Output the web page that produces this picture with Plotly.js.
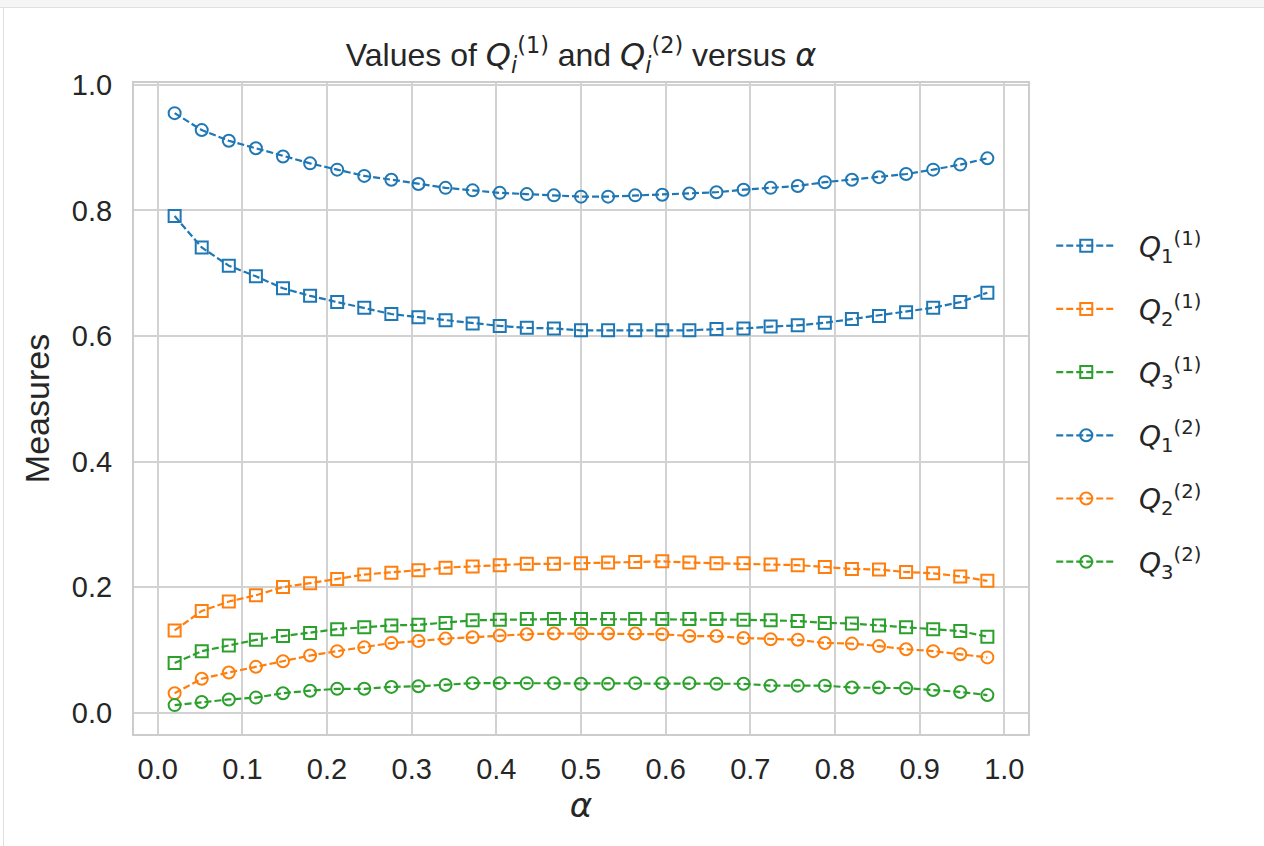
<!DOCTYPE html>
<html>
<head>
<meta charset="utf-8">
<script src="https://cdn.plot.ly/plotly-3.0.1.min.js"></script>
<style>
html,body{margin:0;padding:0;background:#fff;}
#topband{position:absolute;left:0;top:0;width:1264px;height:7px;background:#f5f5f5;border-bottom:1px solid #e0e0e0;}
#leftline{position:absolute;left:3px;top:8px;width:1px;height:838px;background:#e0e0e0;}
#chart{position:absolute;left:0;top:0;width:1264px;height:846px;}
</style>
</head>
<body>
<div id="chart"></div>
<div id="topband"></div>
<div id="leftline"></div>
<script>
const alpha = [0.02,0.052,0.084,0.116,0.148,0.18,0.212,0.244,0.276,0.308,0.34,0.372,0.404,0.436,0.468,0.5,0.532,0.564,0.596,0.628,0.66,0.692,0.724,0.756,0.788,0.82,0.852,0.884,0.916,0.948,0.98];

const Q1_1 = [0.791,0.741,0.712,0.695,0.676,0.664,0.654,0.645,0.635,0.630,0.625,0.620,0.616,0.613,0.612,0.609,0.609,0.609,0.609,0.609,0.611,0.612,0.615,0.617,0.621,0.627,0.632,0.638,0.645,0.654,0.669];
const Q2_1 = [0.131,0.162,0.177,0.187,0.200,0.206,0.213,0.220,0.223,0.227,0.231,0.233,0.235,0.237,0.237,0.238,0.239,0.240,0.241,0.239,0.238,0.238,0.236,0.235,0.232,0.229,0.228,0.224,0.222,0.217,0.210];
const Q3_1 = [0.079,0.098,0.107,0.116,0.122,0.127,0.133,0.136,0.139,0.140,0.143,0.147,0.148,0.149,0.149,0.149,0.149,0.149,0.149,0.149,0.149,0.148,0.147,0.146,0.143,0.142,0.139,0.136,0.133,0.130,0.121];
const Q1_2 = [0.955,0.928,0.911,0.899,0.886,0.875,0.865,0.855,0.849,0.842,0.836,0.832,0.828,0.826,0.824,0.822,0.822,0.824,0.825,0.827,0.829,0.833,0.836,0.839,0.845,0.849,0.853,0.858,0.865,0.873,0.883];
const Q2_2 = [0.031,0.054,0.064,0.073,0.082,0.091,0.098,0.104,0.111,0.114,0.118,0.120,0.123,0.125,0.126,0.126,0.126,0.126,0.125,0.122,0.122,0.119,0.117,0.116,0.111,0.110,0.106,0.101,0.098,0.093,0.088];
const Q3_2 = [0.012,0.017,0.021,0.024,0.031,0.035,0.038,0.038,0.041,0.042,0.044,0.047,0.047,0.047,0.047,0.046,0.046,0.047,0.047,0.047,0.046,0.046,0.043,0.043,0.043,0.040,0.040,0.039,0.036,0.033,0.028];

const pad = '\u00a0\u00a0';
const names = [
  pad + '<i>Q</i><sub>1</sub><sup>(1)</sup>',
  pad + '<i>Q</i><sub>2</sub><sup>(1)</sup>',
  pad + '<i>Q</i><sub>3</sub><sup>(1)</sup>',
  pad + '<i>Q</i><sub>1</sub><sup>(2)</sup>',
  pad + '<i>Q</i><sub>2</sub><sup>(2)</sup>',
  pad + '<i>Q</i><sub>3</sub><sup>(2)</sup>'
];
const series = [Q1_1, Q2_1, Q3_1, Q1_2, Q2_2, Q3_2];
const colors = ['#1f77b4','#ff7f0e','#2ca02c','#1f77b4','#ff7f0e','#2ca02c'];
const symbols = ['square-open','square-open','square-open','circle-open','circle-open','circle-open'];

const traces = series.map((ys, i) => ({
  x: alpha, y: ys, type: 'scatter', mode: 'lines+markers',
  name: names[i], legendgroup: 'g' + i,
  line: {color: colors[i], width: 2.2, dash: '7px,3px'},
  marker: {symbol: symbols[i], size: 12, color: colors[i], line: {width: 2, color: colors[i]}}
}));

const fontFam = '"Liberation Sans", Arial, sans-serif';
const mathFam = '"DejaVu Sans", sans-serif';
const mq = (s) => '<span style="font-family:DejaVu Sans">' + s + '</span>';
const layout = {
  width: 1264, height: 846,
  margin: {l: 134, r: 236, t: 83, b: 112},
  paper_bgcolor: '#ffffff', plot_bgcolor: '#ffffff',
  font: {family: fontFam, color: '#262626', size: 28},
  title: {
    text: 'Values of ' + mq('<i>Q</i><sub><i>i</i></sub><sup>(1)</sup>') + ' and ' + mq('<i>Q</i><sub><i>i</i></sub><sup>(2)</sup>') + ' versus ' + mq('<i>α</i>'),
    font: {size: 32, color: '#262626', family: fontFam},
    x: 0.4597, xanchor: 'center', y: 0.935, yanchor: 'middle'
  },
  xaxis: {
    range: [-0.028, 1.028],
    tickvals: [0,0.1,0.2,0.3,0.4,0.5,0.6,0.7,0.8,0.9,1.0],
    ticktext: ['0.0','0.1','0.2','0.3','0.4','0.5','0.6','0.7','0.8','0.9','1.0'],
    showgrid: true, gridcolor: '#d2d2d2', gridwidth: 2,
    showline: true, linecolor: '#cccccc', linewidth: 2, mirror: true,
    zeroline: false, ticks: '', ticklabelstandoff: 8,
    tickfont: {size: 29, color: '#262626'},
    title: {text: mq('<i>α</i>'), font: {size: 34, color: '#262626'}, standoff: 8}
  },
  yaxis: {
    range: [-0.034, 1.003],
    tickvals: [0,0.2,0.4,0.6,0.8,1.0],
    ticktext: ['0.0','0.2','0.4','0.6','0.8','1.0'],
    showgrid: true, gridcolor: '#d2d2d2', gridwidth: 2,
    showline: true, linecolor: '#cccccc', linewidth: 2, mirror: true,
    zeroline: false, ticks: '', ticklabelstandoff: 14,
    tickfont: {size: 29, color: '#262626'},
    title: {text: 'Measures', font: {size: 34, color: '#262626'}, standoff: 12}
  },
  legend: {
    x: 1.026, xanchor: 'left', y: 0.788, yanchor: 'top',
    font: {size: 28, color: '#262626', family: mathFam},
    bgcolor: 'rgba(0,0,0,0)', borderwidth: 0,
    tracegroupgap: 23.8, itemwidth: 60
  },
  showlegend: true
};

Plotly.newPlot('chart', traces, layout, {displayModeBar: false, staticPlot: true});
</script>
</body>
</html>
